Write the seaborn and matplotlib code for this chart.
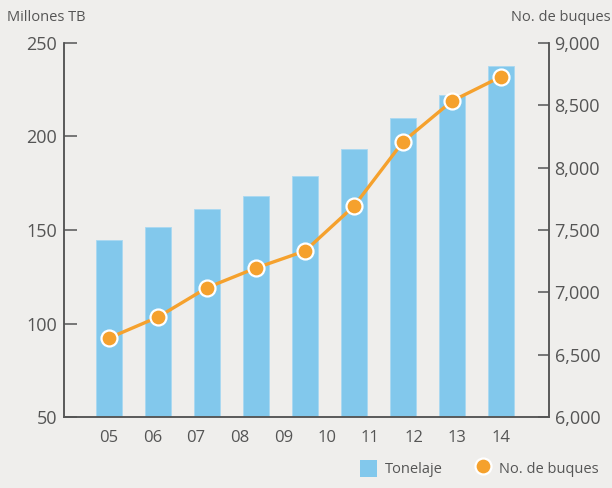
import numpy as np
import matplotlib.pyplot as plt
import seaborn as sns
from matplotlib.patches import Patch
from matplotlib.lines import Line2D

# data
bar_years = ["05", "06", "07", "08", "09", "10", "11", "12", "13"]
tonelaje = [144.5, 151.8, 161.4, 168.2, 178.8, 193.2, 210.0, 222.1, 237.7]
buques = [6635, 6803, 7038, 7196, 7332, 7692, 8207, 8533, 8728]
x_labels = ["05", "06", "07", "08", "09", "10", "11", "12", "13", "14"]
left_ticks = [50, 100, 150, 200, 250]
right_ticks = [6000, 6500, 7000, 7500, 8000, 8500, 9000]

bg = "#efeeec"
blue = "#82c8ec"
orange = "#f5a12d"
grey = "#555555"

sns.set_style("white")
plt.rcParams["font.family"] = ["Open Sans", "DejaVu Sans"]

fig = plt.figure(figsize=(6.12, 4.88), dpi=100, facecolor=bg)
ax = fig.add_axes([0.1046, 0.1449, 0.7925, 0.7676])
ax.set_facecolor(bg)

sns.barplot(x=bar_years, y=tonelaje, ax=ax, color=blue, width=0.53,
            saturation=1, edgecolor="#a9d8f1", linewidth=0.6)
ax.set_ylim(50, 250)
ax.set_yticks(left_ticks)
ax.set_xlim(-0.92, 8.98)
# the original labels are spread evenly and do not line up with the bars
ax.set_xticks(np.linspace(0, len(bar_years) - 1, len(x_labels)))
ax.set_xticklabels(x_labels)
ax.tick_params(axis="x", length=0, pad=9, labelsize=12, labelcolor=grey)
ax.tick_params(axis="y", direction="in", length=9, width=1.1, color=grey,
               pad=5, labelsize=13, labelcolor=grey)
ax.set_xlabel("")
ax.set_ylabel("")

ax2 = ax.twinx()
sns.lineplot(x=np.arange(len(buques)), y=buques, ax=ax2, color=orange,
             linewidth=2.4, marker="o", markersize=11.5,
             markerfacecolor=orange, markeredgecolor="white",
             markeredgewidth=1.6)
ax2.set_ylim(6000, 9000)
ax2.set_yticks(right_ticks)
ax2.set_yticklabels([f"{v:,}" for v in right_ticks])
ax2.tick_params(axis="y", direction="in", length=8, width=1.1, color=grey,
                pad=4, labelsize=13, labelcolor=grey)
ax2.set_ylabel("")
ax2.set_xlim(-0.92, 8.98)

for a in (ax, ax2):
    a.spines["top"].set_visible(False)
    for s in ("left", "right", "bottom"):
        a.spines[s].set_color(grey)
        a.spines[s].set_linewidth(1.1)

fig.text(0.012, 0.965, "Millones TB", ha="left", va="center",
         fontsize=10.5, color=grey)
fig.text(0.997, 0.965, "No. de buques", ha="right", va="center",
         fontsize=10.5, color=grey)

handles = [
    Patch(facecolor=blue, edgecolor="none"),
    Line2D([], [], linestyle="none", marker="o", markersize=11.5,
           markerfacecolor=orange, markeredgecolor="white",
           markeredgewidth=1.6),
]
fig.legend(handles, ["Tonelaje", "No. de buques"], ncol=2,
           loc="lower right", bbox_to_anchor=(1.0, -0.005), frameon=False,
           fontsize=10.5, labelcolor=grey, handlelength=1.2,
           handleheight=1.5, columnspacing=2.2, handletextpad=0.5)

fig.savefig("out.png", dpi=100, facecolor=bg)
